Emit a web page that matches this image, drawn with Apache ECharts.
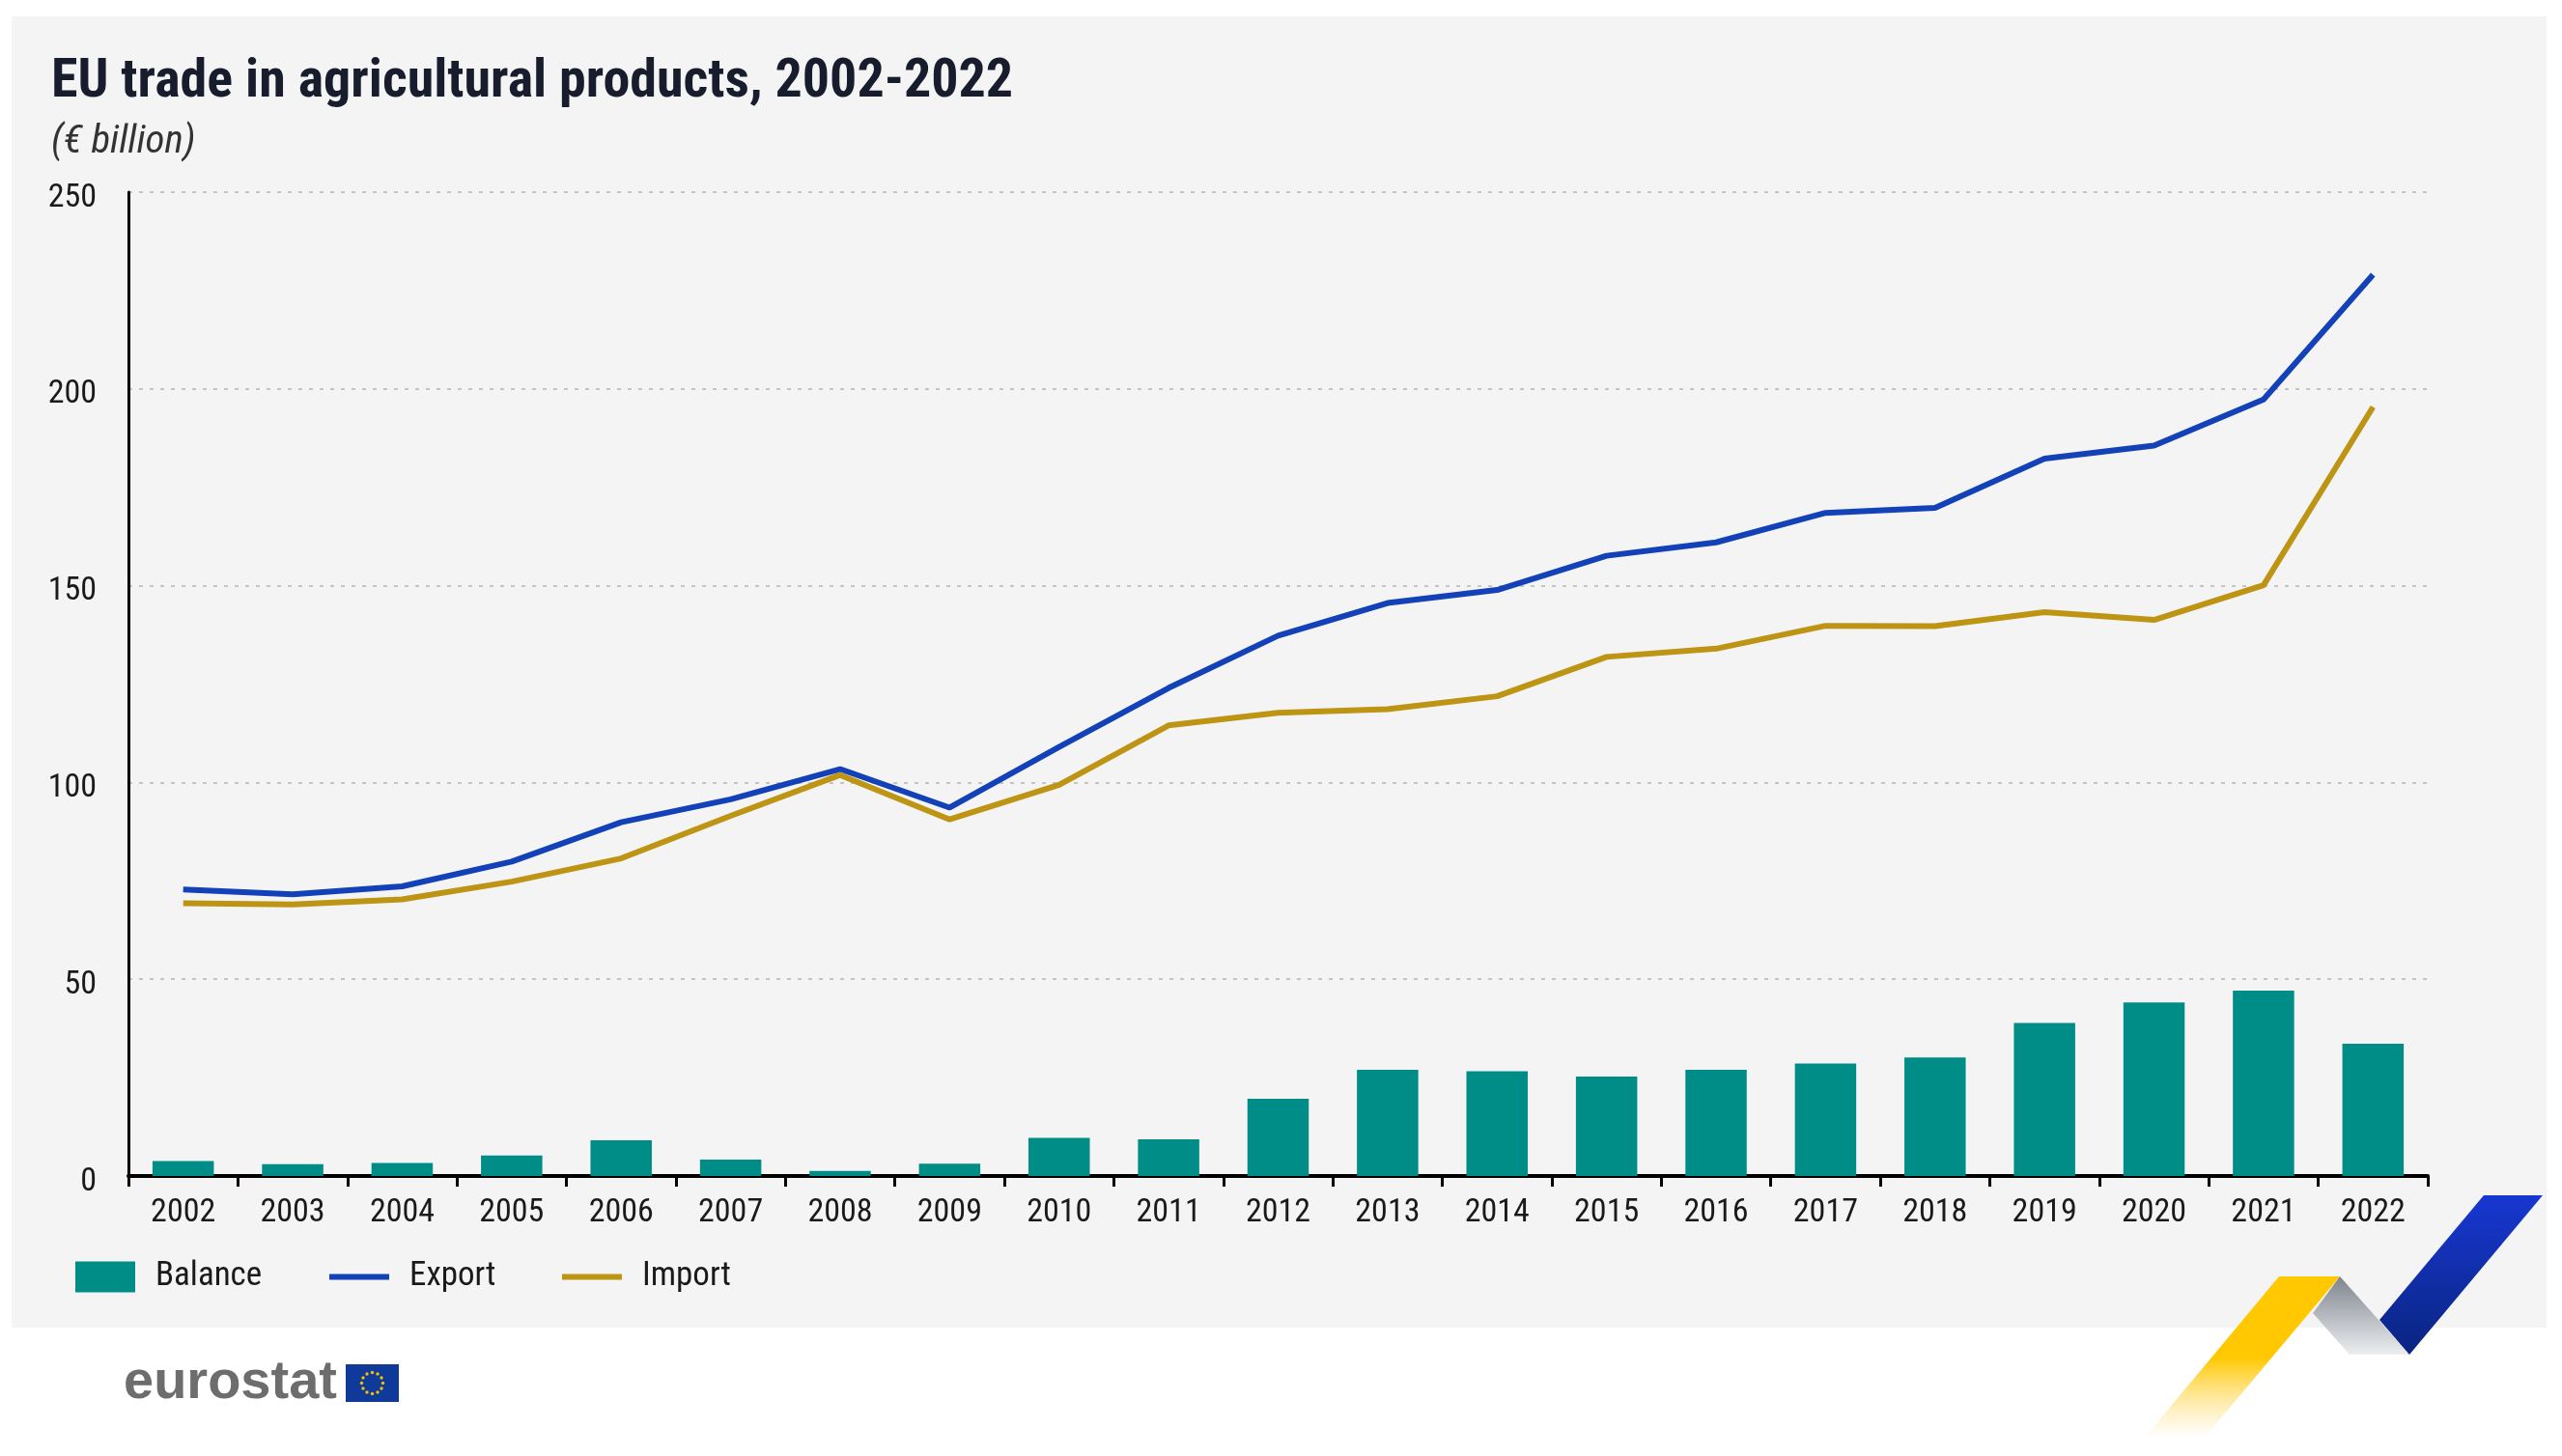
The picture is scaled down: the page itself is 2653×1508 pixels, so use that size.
<!DOCTYPE html>
<html>
<head>
<meta charset="utf-8">
<style>
  html, body { margin: 0; padding: 0; background: #ffffff; }
  #chart { width: 2653px; height: 1508px; }
</style>
<script src="https://cdn.jsdelivr.net/npm/echarts@6.0.0/dist/echarts.min.js"></script>
</head>
<body>
<div id="chart"></div>
<script>
const years = ['2002','2003','2004','2005','2006','2007','2008','2009','2010','2011','2012','2013','2014','2015','2016','2017','2018','2019','2020','2021','2022'];
const exportValues = [72.8, 71.6, 73.6, 79.9, 89.9, 95.7, 103.4, 93.6, 109.0, 124.0, 137.3, 145.6, 148.9, 157.6, 161.0, 168.5, 169.8, 182.3, 185.6, 197.3, 229.0];
const importValues = [69.3, 69.0, 70.3, 74.8, 80.7, 91.5, 101.9, 90.6, 99.4, 114.5, 117.7, 118.6, 121.9, 131.9, 134.0, 139.8, 139.7, 143.3, 141.3, 150.1, 195.4];
const balanceValues = [3.8, 3.0, 3.3, 5.2, 9.1, 4.2, 1.3, 3.1, 9.7, 9.3, 19.6, 27.0, 26.6, 25.3, 27.0, 28.6, 30.1, 38.9, 44.1, 47.1, 33.6];
const yTicks = { min: 0, max: 250, interval: 50 };

const FONT = "'Roboto Condensed', 'Liberation Sans Narrow', 'DejaVu Sans Condensed', Roboto, sans-serif";
const TXT = '#1a1a1a';

const chart = echarts.init(document.getElementById('chart'), null, { renderer: 'canvas' });

// EU flag stars
const stars = [];
for (let i = 0; i < 12; i++) {
  const a = i / 12 * Math.PI * 2;
  stars.push({
    type: 'circle', z: 2, silent: true,
    shape: { cx: 385.5 + Math.cos(a) * 11, cy: 1432.5 + Math.sin(a) * 11, r: 1.7 },
    style: { fill: '#f3c100' }
  });
}

const legendBase = {
  orient: 'horizontal', top: 1305, itemWidth: 62, itemHeight: 32, selectedMode: false, padding: 0,
  textStyle: { fontFamily: FONT, fontSize: 35, color: TXT, padding: [0, 0, 0, 16] }
};

chart.setOption({
  backgroundColor: '#ffffff',
  animation: false,
  title: [
    { text: 'EU trade in agricultural products, 2002-2022', left: 53, top: 58, padding: 0,
      textStyle: { fontFamily: FONT, fontSize: 56, fontWeight: 'bold', color: '#171d2d' } },
    { text: '(€ billion)', left: 53, top: 127, padding: 0,
      textStyle: { fontFamily: FONT, fontSize: 41, fontStyle: 'italic', fontWeight: 'normal', color: '#333333' } }
  ],
  graphic: [
    { type: 'rect', z: -10, silent: true, shape: { x: 12, y: 17, width: 2625, height: 1358 }, style: { fill: '#f4f4f4' } },
    // decorative stripes
    { type: 'polygon', z: 1, silent: true,
      shape: { points: [[2360,1322],[2423,1322],[2282,1490],[2220,1490]] },
      style: { fill: new echarts.graphic.LinearGradient(0, 0, 0, 1, [
        { offset: 0, color: '#ffc800' }, { offset: 0.5, color: '#ffc800' }, { offset: 1, color: 'rgba(255,220,120,0)' }]) } },
    { type: 'polygon', z: 1, silent: true,
      shape: { points: [[2395,1360],[2423,1322],[2495,1403],[2433,1403]] },
      style: { fill: new echarts.graphic.LinearGradient(0, 0, 0, 1, [
        { offset: 0, color: '#7f848e' }, { offset: 1, color: '#eceef0' }]) } },
    { type: 'polygon', z: 1, silent: true,
      shape: { points: [[2572,1238],[2633,1238],[2495,1403],[2464,1367]] },
      style: { fill: new echarts.graphic.LinearGradient(0, 1, 0, 0, [
        { offset: 0, color: '#0a2580' }, { offset: 1, color: '#1737d2' }]) } },
    // eurostat logo
    { type: 'text', z: 2, silent: true, left: 128, top: 1405,
      style: { text: 'eurostat', font: "bold 56px 'Liberation Sans', Arial, sans-serif", fill: '#6d6d6d' } },
    { type: 'rect', z: 2, silent: true, shape: { x: 358, y: 1413, width: 55, height: 39 }, style: { fill: '#0f3a9a' } },
    ...stars
  ],
  legend: [
    Object.assign({}, legendBase, { left: 78, data: [{ name: 'Balance', icon: 'rect' }] }),
    Object.assign({}, legendBase, { left: 341, itemHeight: 6, data: [{ name: 'Export', icon: 'rect' }] }),
    Object.assign({}, legendBase, { left: 582, itemHeight: 6, data: [{ name: 'Import', icon: 'rect' }] })
  ],
  grid: { left: 133, right: 139, top: 199, bottom: 290, containLabel: false },
  xAxis: {
    type: 'category',
    data: years,
    boundaryGap: true,
    axisLine: { show: true, lineStyle: { color: '#000000', width: 4 } },
    axisTick: { show: true, length: 11, lineStyle: { color: '#000000', width: 3 } },
    axisLabel: { fontFamily: FONT, fontSize: 34, color: TXT, margin: 21, interval: 0 },
    splitLine: { show: false }
  },
  yAxis: {
    type: 'value',
    min: yTicks.min, max: yTicks.max, interval: yTicks.interval,
    axisLine: { show: true, lineStyle: { color: '#000000', width: 3 } },
    axisTick: { show: false },
    axisLabel: { fontFamily: FONT, fontSize: 34, color: TXT, margin: 33, verticalAlign: 'top', lineHeight: 12 },
    splitLine: { show: true, lineStyle: { color: '#c4c4c4', width: 2, type: [4, 7] } }
  },
  series: [
    { name: 'Balance', type: 'bar', data: balanceValues, barWidth: '56%', z: 2,
      itemStyle: { color: '#008d88' } },
    { name: 'Export', type: 'line', data: exportValues, symbol: 'none', z: 3,
      lineStyle: { color: '#1241b8', width: 6 }, itemStyle: { color: '#1241b8' } },
    { name: 'Import', type: 'line', data: importValues, symbol: 'none', z: 3,
      lineStyle: { color: '#bd9414', width: 6 }, itemStyle: { color: '#bd9414' } }
  ]
});
</script>
</body>
</html>
